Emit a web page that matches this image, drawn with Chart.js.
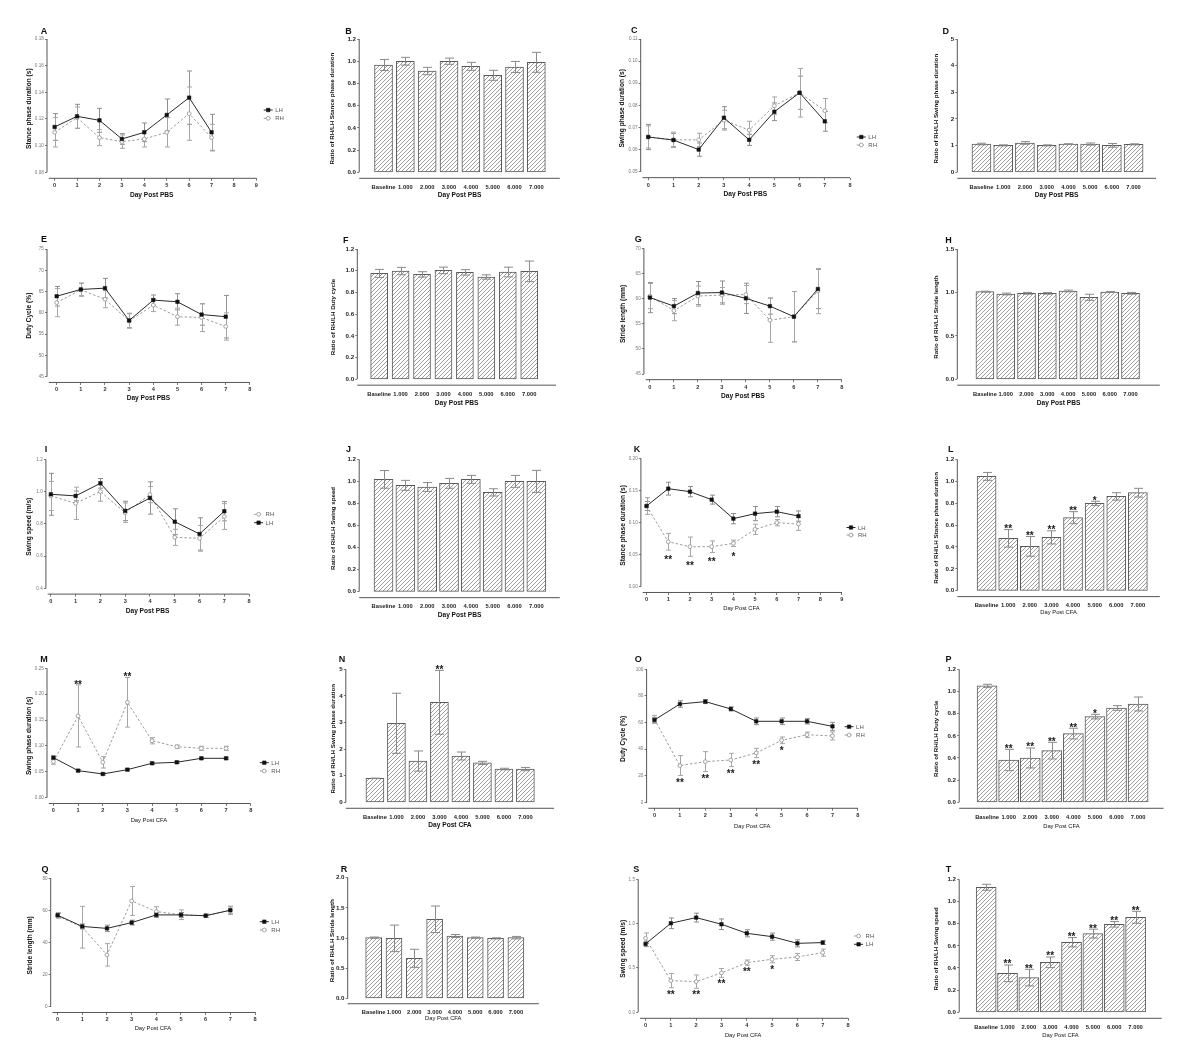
<!DOCTYPE html>
<html><head><meta charset="utf-8">
<script src="https://cdn.jsdelivr.net/npm/chart.js@4.4.1/dist/chart.umd.min.js"></script>
<style>
html,body{margin:0;padding:0;background:#fff;}
#fig{position:relative;width:1200px;height:1064px;overflow:hidden;background:#fff;}
.pc{position:absolute;}
.letter{position:absolute;font-family:'Liberation Sans',Arial,sans-serif;font-weight:bold;font-size:9px;color:#111;transform:translate(-50%,-50%);line-height:1;}
</style></head><body><div id="fig"></div>
<script>
// ---------- categories / ticks ----------
const days = [0,1,2,3,4,5,6,7];
const barCats = ['Baseline','1.000','2.000','3.000','4.000','5.000','6.000','7.000'];
const xTicks8 = [0,1,2,3,4,5,6,7,8];
const xTicks9 = [0,1,2,3,4,5,6,7,8,9];
const ratioTicks12 = [0,0.2,0.4,0.6,0.8,1.0,1.2];

// ---------- A: stance phase duration, PBS ----------
const A_yTicks = [0.08,0.10,0.12,0.14,0.16,0.18];
const A_LH = [0.114,0.122,0.119,0.105,0.110,0.123,0.136,0.110];
const A_LHerr = [0.010,0.009,0.009,0.004,0.007,0.012,0.020,0.0135];
const A_RH = [0.110,0.121,0.106,0.103,0.105,0.110,0.124,0.106];
const A_RHerr = [0.011,0.008,0.006,0.005,0.006,0.011,0.020,0.010];
// ---------- B ----------
const B_ratio = [0.966,1.000,0.912,1.000,0.954,0.873,0.948,0.990];
const B_err = [0.050,0.035,0.033,0.028,0.036,0.045,0.050,0.090];
// ---------- C: swing phase duration, PBS ----------
const C_yTicks = [0.05,0.06,0.07,0.08,0.09,0.10,0.11];
const C_LH = [0.0657,0.0643,0.0600,0.0744,0.0644,0.0771,0.0857,0.0728];
const C_LHerr = [0.0057,0.003,0.003,0.005,0.0025,0.004,0.0075,0.0045];
const C_RH = [0.0657,0.0644,0.0644,0.0733,0.0688,0.0798,0.0857,0.0776];
const C_RHerr = [0.005,0.0035,0.003,0.0045,0.004,0.004,0.011,0.0055];
// ---------- D ----------
const D_yTicks = [0,1,2,3,4,5];
const D_ratio = [1.06,1.01,1.10,1.01,1.06,1.06,1.01,1.05];
const D_err = [0.03,0.02,0.05,0.02,0.01,0.04,0.07,0.02];
// ---------- E: duty cycle, PBS ----------
const E_yTicks = [45,50,55,60,65,70,75];
const E_LH = [63.9,65.5,65.8,58.2,63.0,62.6,59.6,59.1];
const E_LHerr = [2.3,1.5,2.3,1.7,1.2,1.9,2.5,5.0];
const E_RH = [62.4,65.4,63.2,58.1,61.8,59.1,58.9,56.8];
const E_RHerr = [3.3,1.5,2.0,1.7,1.5,2.0,3.3,3.2];
// ---------- F ----------
const F_ratio = [0.975,0.997,0.966,1.003,0.985,0.942,0.988,0.994];
const F_err = [0.037,0.034,0.025,0.030,0.025,0.020,0.045,0.095];
// ---------- G: stride length, PBS ----------
const G_yTicks = [45,50,55,60,65,70];
const G_LH = [60.2,58.5,61.1,61.2,60.05,58.5,56.4,61.9];
const G_LHerr = [3.0,1.5,2.3,2.3,3.0,1.6,5.0,3.9];
const G_RH = [60.5,57.6,60.5,60.7,60.8,55.7,56.4,61.5];
const G_RHerr = [2.5,2.0,2.0,1.5,1.8,4.4,5.0,4.5];
// ---------- H ----------
const H_yTicks = [0,0.5,1.0,1.5];
const H_ratio = [1.009,0.982,0.990,0.990,1.017,0.944,1.005,0.990];
const H_err = [0.005,0.010,0.010,0.010,0.010,0.035,0.005,0.010];
// ---------- I: swing speed, PBS ----------
const I_yTicks = [0.4,0.6,0.8,1.0,1.2];
const I_LH = [0.983,0.973,1.051,0.880,0.960,0.813,0.737,0.878];
const I_LHerr = [0.13,0.03,0.03,0.06,0.10,0.08,0.10,0.06];
const I_RH = [0.973,0.927,1.000,0.869,0.981,0.716,0.710,0.845];
const I_RHerr = [0.09,0.10,0.06,0.06,0.05,0.05,0.08,0.08];
// ---------- J ----------
const J_ratio = [1.018,0.964,0.949,0.982,1.018,0.900,1.000,1.000];
const J_err = [0.080,0.045,0.040,0.045,0.036,0.033,0.054,0.100];
// ---------- K: stance phase duration, CFA ----------
const K_yTicks = [0.00,0.05,0.10,0.15,0.20];
const K_LH = [0.1257,0.1527,0.148,0.1356,0.106,0.1138,0.1169,0.110];
const K_LHerr = [0.007,0.010,0.008,0.007,0.008,0.011,0.008,0.008];
const K_RH = [0.1257,0.070,0.0623,0.0623,0.0675,0.0893,0.0997,0.0977];
const K_RHerr = [0.013,0.013,0.015,0.009,0.005,0.008,0.005,0.010];
const K_stars = ['','**','**','**','*','','',''];
// ---------- L ----------
const L_ratio = [1.044,0.478,0.405,0.487,0.667,0.797,0.861,0.895];
const L_err = [0.036,0.080,0.090,0.060,0.055,0.020,0.034,0.040];
const L_stars = ['','**','**','**','**','*','',''];
// ---------- M: swing phase duration, CFA ----------
const M_yTicks = [0.00,0.05,0.10,0.15,0.20,0.25];
const M_LH = [0.0774,0.0523,0.0458,0.0542,0.0665,0.0684,0.0761,0.0761];
const M_LHerr = [0.003,0.002,0.002,0.002,0.002,0.002,0.002,0.002];
const M_RH = [0.0697,0.158,0.0684,0.1843,0.110,0.0986,0.0954,0.0954];
const M_RHerr = [0.005,0.060,0.011,0.048,0.006,0.003,0.004,0.004];
const M_stars = ['','**','','**','','','',''];
// ---------- N ----------
const N_yTicks = [0,1,2,3,4,5];
const N_ratio = [0.90,2.97,1.55,3.76,1.74,1.48,1.25,1.25];
const N_err = [0.01,1.13,0.38,1.20,0.15,0.06,0.03,0.06];
const N_stars = ['','','','**','','','',''];
// ---------- O: duty cycle, CFA ----------
const O_yTicks = [0,20,40,60,80,100];
const O_LH = [61.9,73.9,75.7,70.2,60.9,60.9,60.9,57.1];
const O_LHerr = [2,2.5,1.5,1.5,2.5,2.5,2,3];
const O_RH = [62.4,27.6,30.6,31.8,37.1,46.6,50.8,49.9];
const O_RHerr = [3,7.5,7.5,5,3.5,2.5,2,3];
const O_stars = ['','**','**','**','**','*','',''];
// ---------- P ----------
const P_ratio = [1.050,0.382,0.400,0.466,0.620,0.773,0.851,0.887];
const P_err = [0.015,0.096,0.090,0.075,0.048,0.021,0.021,0.063];
const P_stars = ['','**','**','**','**','*','',''];
// ---------- Q: stride length, CFA ----------
const Q_yTicks = [0,20,40,60,80];
const Q_LH = [57.0,50.0,48.8,52.4,57.2,57.2,56.7,60.1];
const Q_LHerr = [1.5,1.5,2,1.5,1.5,1.5,1,2.5];
const Q_RH = [56.6,49.5,32.3,65.9,59.3,57.3,56.6,60.2];
const Q_RHerr = [1.5,13,7,9,3,3,1,2];
// ---------- R ----------
const R_yTicks = [0,0.5,1.0,1.5,2.0];
const R_ratio = [1.006,0.994,0.663,1.310,1.033,1.006,0.994,1.006];
const R_err = [0.010,0.220,0.150,0.220,0.025,0.010,0.010,0.020];
// ---------- S: swing speed, CFA ----------
const S_yTicks = [0,0.5,1.0,1.5];
const S_LH = [0.771,1.004,1.068,0.993,0.891,0.853,0.778,0.786];
const S_LHerr = [0.03,0.06,0.05,0.06,0.04,0.04,0.04,0.02];
const S_RH = [0.835,0.357,0.346,0.444,0.560,0.598,0.624,0.673];
const S_RHerr = [0.06,0.08,0.075,0.05,0.03,0.04,0.04,0.04];
const S_stars = ['','**','**','**','**','*','',''];
// ---------- T ----------
const T_ratio = [1.128,0.352,0.313,0.451,0.632,0.710,0.794,0.857];
const T_err = [0.027,0.075,0.075,0.048,0.042,0.040,0.025,0.054];
const T_stars = ['','**','**','**','**','**','**','**'];

// ---------- layout / style of each panel ----------
const FONT = "'Liberation Sans', Arial, sans-serif";
const panels = [
 {id:'A',kind:'line',L:47,T:39,H0:133.3,R:256.4,xmin:-0.34,xmax:9,xt:xTicks9,yt:A_yTicks,yDec:2,yTitle:'Stance phase duration (s)',xTitle:'Day Post PBS',xBold:true,yTitleX:28.7,xTitleY:195,lt:[43.9,31],LH:A_LH,LHe:A_LHerr,RH:A_RH,RHe:A_RHerr,leg:{x:263.7,rows:[['LH',110],['RH',118.3]]}},
 {id:'B',kind:'bar',L:359.2,T:39,H0:133.3,R:559.8,xmin:-0.54,xmax:7.5,yt:ratioTicks12,yDec:1,yTitle:'Ratio of RH/LH Stance phase duration',xTitle:'Day Post PBS',xBold:true,yTitleX:332.4,xTitleY:195,lt:[348.5,31],vals:B_ratio,errs:B_err,barW:18},
 {id:'C',kind:'line',L:640.7,T:39,H0:132.7,R:850,xmin:-0.3,xmax:8,xt:xTicks8,yt:C_yTicks,yDec:2,yTitle:'Swing phase duration (s)',xTitle:'Day Post PBS',xBold:true,yTitleX:621.7,xTitleY:194.5,lt:[634.3,30],LH:C_LH,LHe:C_LHerr,RH:C_RH,RHe:C_RHerr,leg:{x:856.8,rows:[['LH',137],['RH',145]]}},
 {id:'D',kind:'bar',L:957.3,T:39,H0:133.3,R:1156,xmin:-0.54,xmax:7.46,yt:D_yTicks,yDec:0,yTitle:'Ratio of RH/LH Swing phase duration',xTitle:'Day Post PBS',xBold:true,yTitleX:936.3,xTitleY:195,lt:[945.8,31],vals:D_ratio,errs:D_err,barW:19},

 {id:'E',kind:'line',L:47,T:249,H0:127.7,R:249.9,xmin:-0.4,xmax:8,xt:xTicks8,yt:E_yTicks,yDec:0,yTitle:'Duty Cycle (%)',xTitle:'Day Post PBS',xBold:true,yTitleX:28.7,xTitleY:398,lt:[43.9,239],LH:E_LH,LHe:E_LHerr,RH:E_RH,RHe:E_RHerr},
 {id:'F',kind:'bar',L:357.3,T:249,H0:130.3,R:556,xmin:-0.44,xmax:7.67,yt:ratioTicks12,yDec:1,yTitle:'Ratio of RH/LH Duty cycle',xTitle:'Day Post PBS',xBold:true,yTitleX:333.2,xTitleY:402.7,lt:[345.8,240],vals:F_ratio,errs:F_err,barW:17},
 {id:'G',kind:'line',L:643.9,T:248.3,H0:125.7,R:841.9,xmin:-0.25,xmax:8,xt:xTicks8,yt:G_yTicks,yDec:0,yTitle:'Stride length (mm)',xTitle:'Day Post PBS',xBold:true,yTitleX:622.9,xTitleY:396,lt:[638.2,239],LH:G_LH,LHe:G_LHerr,RH:G_RH,RHe:G_RHerr},
 {id:'H',kind:'bar',L:957.3,T:249,H0:130.3,R:1159.8,xmin:-0.72,xmax:7.8,yt:H_yTicks,yDec:1,yTitle:'Ratio of RH/LH Stride length',xTitle:'Day Post PBS',xBold:true,yTitleX:936.3,xTitleY:402.7,lt:[948.5,240],vals:H_ratio,errs:H_err,barW:18},

 {id:'I',kind:'line',L:45.9,T:459.3,H0:129,R:249.1,xmin:-0.2,xmax:8,xt:xTicks8,yt:I_yTicks,yDec:1,yTitle:'Swing speed (m/s)',xTitle:'Day Post PBS',xBold:true,yTitleX:28.7,xTitleY:611,lt:[45.9,449],LH:I_LH,LHe:I_LHerr,RH:I_RH,RHe:I_RHerr,leg:{x:254.1,rows:[['RH',514.3],['LH',522.7]]}},
 {id:'J',kind:'bar',L:359.2,T:459.3,H0:132.4,R:559.8,xmin:-0.54,xmax:7.5,yt:ratioTicks12,yDec:1,yTitle:'Ratio of RH/LH Swing speed',xTitle:'Day Post PBS',xBold:true,yTitleX:333.2,xTitleY:615,lt:[348.5,449],vals:J_ratio,errs:J_err,barW:19},
 {id:'K',kind:'line',L:640.9,T:458.3,H0:128.4,R:841.9,xmin:-0.26,xmax:9,xt:xTicks9,yt:K_yTicks,yDec:2,yTitle:'Stance phase duration (s)',xTitle:'Day Post CFA',xBold:false,yTitleX:622.9,xTitleY:608.3,lt:[637.1,449],LH:K_LH,LHe:K_LHerr,RH:K_RH,RHe:K_RHerr,stars:K_stars,starMode:'below',starGap:13,leg:{x:846.5,rows:[['LH',527.5],['RH',535]]}},
 {id:'L',kind:'bar',L:957.3,T:459.3,H0:131.4,R:1159.8,xmin:-0.77,xmax:7.43,yt:ratioTicks12,yDec:1,yTitle:'Ratio of RH/LH Stance phase duration',xTitle:'Day Post CFA',xBold:false,yTitleX:936.3,xTitleY:612.3,lt:[950.8,449],vals:L_ratio,errs:L_err,barW:19,stars:L_stars},

 {id:'M',kind:'line',L:47,T:668.3,H0:129.4,R:250.7,xmin:-0.26,xmax:8,xt:xTicks8,yt:M_yTicks,yDec:2,yTitle:'Swing phase duration (s)',xTitle:'Day Post CFA',xBold:false,yTitleX:28.7,xTitleY:820,lt:[43.9,659],LH:M_LH,LHe:M_LHerr,RH:M_RH,RHe:M_RHerr,stars:M_stars,starMode:'above',starGap:3,leg:{x:259.8,rows:[['LH',762.7],['RH',771]]}},
 {id:'N',kind:'bar',L:345.8,T:669.3,H0:133,R:554.1,xmin:-0.75,xmax:7.73,yt:N_yTicks,yDec:0,yTitle:'Ratio of RH/LH Swing phase duration',xTitle:'Day Post CFA',xBold:true,yTitleX:333.2,xTitleY:825,lt:[342,659],vals:N_ratio,errs:N_err,barW:18,stars:N_stars},
 {id:'O',kind:'line',L:646.6,T:669.3,H0:133,R:857.9,xmin:-0.31,xmax:8,xt:xTicks8,yt:O_yTicks,yDec:0,yTitle:'Duty Cycle (%)',xTitle:'Day Post CFA',xBold:false,yTitleX:622.9,xTitleY:826,lt:[638.2,659],LH:O_LH,LHe:O_LHerr,RH:O_RH,RHe:O_RHerr,stars:O_stars,starMode:'below',starGap:10,leg:{x:844.6,rows:[['LH',726.7],['RH',735]]}},
 {id:'P',kind:'bar',L:959.2,T:669.3,H0:133,R:1163.6,xmin:-0.7,xmax:7.59,yt:ratioTicks12,yDec:1,yTitle:'Ratio of RH/LH Duty cycle',xTitle:'Day Post CFA',xBold:false,yTitleX:936.3,xTitleY:826,lt:[948.5,659],vals:P_ratio,errs:P_err,barW:20,stars:P_stars},

 {id:'Q',kind:'line',L:50.7,T:878.3,H0:128.4,R:255,xmin:-0.28,xmax:8,xt:xTicks8,yt:Q_yTicks,yDec:0,yTitle:'Stride length (mm)',xTitle:'Day Post CFA',xBold:false,yTitleX:30,xTitleY:1028.3,lt:[45,869.3],LH:Q_LH,LHe:Q_LHerr,RH:Q_RH,RHe:Q_RHerr,leg:{x:259.8,rows:[['LH',921.7],['RH',930]]}},
 {id:'R',kind:'bar',L:347.7,T:877.7,H0:120.6,R:538.8,xmin:-0.69,xmax:7.54,yt:R_yTicks,yDec:1,yTitle:'Ratio of RH/LH Stride length',xTitle:'Day Post CFA',xBold:false,yTitleX:332.4,xTitleY:1018.3,lt:[343.9,869],vals:R_ratio,errs:R_err,barW:16},
 {id:'S',kind:'line',L:638.2,T:879.3,H0:133,R:848,xmin:-0.29,xmax:8,xt:xTicks8,yt:S_yTicks,yDec:1,yTitle:'Swing speed (m/s)',xTitle:'Day Post CFA',xBold:false,yTitleX:622.9,xTitleY:1035,lt:[636.3,869],LH:S_LH,LHe:S_LHerr,RH:S_RH,RHe:S_RHerr,stars:S_stars,starMode:'below',starGap:10,leg:{x:854.1,rows:[['RH',936],['LH',944.3]]}},
 {id:'T',kind:'bar',L:959.2,T:879.3,H0:133,R:1161.7,xmin:-0.67,xmax:7.63,yt:ratioTicks12,yDec:1,yTitle:'Ratio of RH/LH Swing speed',xTitle:'Day Post CFA',xBold:false,yTitleX:936.3,xTitleY:1035,lt:[948.5,869],vals:T_ratio,errs:T_err,barW:20,stars:T_stars}
];

// ---------- plugins ----------
const gpAxes = {
  id:'gpAxes',
  afterDraw(chart, args, o) {
    const {ctx, chartArea:a, scales:{x, y}} = chart;
    const yt = o.yt;
    ctx.save();
    ctx.strokeStyle = '#555'; ctx.lineWidth = 1;
    ctx.beginPath();
    ctx.moveTo(a.left, y.getPixelForValue(yt[yt.length-1]));
    ctx.lineTo(a.left, y.getPixelForValue(yt[0]));
    ctx.moveTo(a.left + o.xGap, a.bottom);
    ctx.lineTo(a.right, a.bottom);
    ctx.stroke();
    ctx.restore();
  }
};
const errBars = {
  id:'errBars',
  draw(chart, layer) {
    const {ctx, scales:{y}} = chart;
    chart.data.datasets.forEach((ds, di) => {
      if (!ds.errors || ds.errLayer !== layer) return;
      const meta = chart.getDatasetMeta(di);
      ctx.save();
      ctx.strokeStyle = ds.errColor; ctx.lineWidth = 1;
      meta.data.forEach((el, i) => {
        const e = ds.errors[i]; if (e == null) return;
        const v = ds.data[i].y;
        const x = Math.round(el.x) + 0.5;
        const y1 = y.getPixelForValue(v + e), y2 = y.getPixelForValue(v - e);
        const c = ds.capW / 2;
        ctx.beginPath();
        ctx.moveTo(x, y1); ctx.lineTo(x, y2);
        ctx.moveTo(x - c, y1); ctx.lineTo(x + c, y1);
        ctx.moveTo(x - c, y2); ctx.lineTo(x + c, y2);
        ctx.stroke();
      });
      ctx.restore();
    });
  },
  beforeDatasetsDraw(chart) { this.draw(chart, 'under'); },
  afterDatasetsDraw(chart) { this.draw(chart, 'over'); }
};
const stars = {
  id:'stars',
  afterDatasetsDraw(chart) {
    const {ctx, scales:{y}} = chart;
    chart.data.datasets.forEach((ds, di) => {
      if (!ds.stars) return;
      const meta = chart.getDatasetMeta(di);
      ctx.save();
      ctx.fillStyle = '#1a1a1a';
      ctx.font = 'bold 10px ' + FONT;
      ctx.textAlign = 'center'; ctx.textBaseline = 'alphabetic';
      meta.data.forEach((el, i) => {
        const s = ds.stars[i]; if (!s) return;
        const v = ds.data[i].y, e = ds.errors[i] || 0;
        let py;
        if (ds.starMode === 'below') py = y.getPixelForValue(v - e) + ds.starGap;
        else py = y.getPixelForValue(v + e) + ds.starGap;
        ctx.fillText(s, el.x, py);
      });
      ctx.restore();
    });
  }
};
const miniLegend = {
  id:'miniLegend',
  afterDraw(chart, args, o) {
    if (!o.rows) return;
    const ctx = chart.ctx;
    ctx.save();
    o.rows.forEach(r => {
      const ds = chart.data.datasets.find(d => d.label === r.label);
      const x = r.x, y = r.y;
      ctx.strokeStyle = ds.borderColor; ctx.lineWidth = 1;
      ctx.setLineDash(ds.borderDash || []);
      ctx.beginPath(); ctx.moveTo(x, y); ctx.lineTo(x + 9, y); ctx.stroke();
      ctx.setLineDash([]);
      const mx = x + 4.5;
      ctx.fillStyle = ds.pointBackgroundColor; ctx.strokeStyle = ds.pointBorderColor;
      ctx.lineWidth = ds.pointBorderWidth;
      ctx.beginPath();
      if (ds.pointStyle === 'rect') { const h = ds.pointRadius * Math.SQRT1_2; ctx.rect(mx - h, y - h, 2*h, 2*h); }
      else ctx.arc(mx, y, ds.pointRadius, 0, Math.PI*2);
      ctx.fill(); ctx.stroke();
      ctx.fillStyle = '#555'; ctx.font = '6px ' + FONT;
      ctx.textAlign = 'left'; ctx.textBaseline = 'middle';
      ctx.fillText(ds.label, x + 11.5, y + 0.5);
    });
    ctx.restore();
  }
};

function hatchPattern() {
  const c = document.createElement('canvas'); c.width = 4; c.height = 4;
  const g = c.getContext('2d');
  g.fillStyle = '#fff'; g.fillRect(0,0,4,4);
  g.strokeStyle = '#858585'; g.lineWidth = 0.8;
  g.beginPath();
  g.moveTo(0,4); g.lineTo(4,0);
  g.moveTo(-1,1); g.lineTo(1,-1);
  g.moveTo(3,5); g.lineTo(5,3);
  g.stroke();
  return g.createPattern(c, 'repeat');
}
const HATCH = hatchPattern();

// ---------- builder ----------
function build(p) {
  const fig = document.getElementById('fig');
  const yt = p.yt, y0 = yt[0], y1 = yt[yt.length-1], span = y1 - y0;
  const ymin = y0 - 0.045*span;
  const B = p.T + p.H0*1.045;
  const cl = Math.floor(p.yTitleX - 6);
  const ct = Math.floor(p.T - 8);
  const cb = Math.ceil(p.xTitleY + 6);
  const YW = p.L - cl;
  const XH = cb - B;
  let need = 8;
  if (p.leg) need = Math.max(need, p.leg.x + 26 - p.R);
  const W = Math.ceil(YW + (p.R - p.L) + need);
  const PR = W - YW - (p.R - p.L);
  const H = cb - ct;
  const isLine = p.kind === 'line';

  const ySize = isLine ? 6.6 : 6.2;
  const xSize = p.xBold ? 6.6 : 5.8;
  const yPadTop = (p.yTitleX - cl) - ySize*1.2/2;
  const xPadBot = (cb - p.xTitleY) - xSize*1.2/2;

  const wrap = document.createElement('div');
  wrap.className = 'pc';
  wrap.style.left = cl + 'px'; wrap.style.top = ct + 'px';
  wrap.style.width = W + 'px'; wrap.style.height = H + 'px';
  const cv = document.createElement('canvas');
  cv.width = W; cv.height = H;
  cv.style.width = W + 'px'; cv.style.height = H + 'px';
  wrap.appendChild(cv); fig.appendChild(wrap);

  const lt = document.createElement('div');
  lt.className = 'letter'; lt.textContent = p.id;
  lt.style.left = p.lt[0] + 'px'; lt.style.top = p.lt[1] + 'px';
  fig.appendChild(lt);

  let datasets;
  if (isLine) {
    datasets = [
      {label:'LH', data: days.map((d,i)=>({x:d, y:p.LH[i]})), errors:p.LHe, errColor:'#8e8e8e', errLayer:'under', capW:5,
       borderColor:'#2a2a2a', borderWidth:1, pointStyle:'rect', pointRadius:2.5, pointBackgroundColor:'#111', pointBorderColor:'#111', pointBorderWidth:0.5, tension:0, fill:false, clip:false},
      {label:'RH', data: days.map((d,i)=>({x:d, y:p.RH[i]})), errors:p.RHe, errColor:'#a6a6a6', errLayer:'under', capW:5,
       borderColor:'#9c9c9c', borderDash:[2.5,2], borderWidth:1, pointStyle:'circle', pointRadius:1.9, pointBackgroundColor:'#fff', pointBorderColor:'#9a9a9a', pointBorderWidth:0.9, tension:0, fill:false, clip:false,
       stars:p.stars, starMode:p.starMode, starGap:p.starGap}
    ];
  } else {
    datasets = [
      {label:'ratio', data: p.vals.map((v,i)=>({x:i, y:v})), errors:p.errs, errColor:'#8a8a8a', errLayer:'over', capW:9,
       backgroundColor:HATCH, borderColor:'#5a5a5a', borderWidth:1, borderSkipped:false, barThickness:p.barW,
       stars:p.stars, starMode:'above', starGap:2.5}
    ];
  }

  const legendRows = p.leg ? p.leg.rows.map(r => ({label:r[0], x:p.leg.x - cl, y:r[1] - ct})) : null;

  new Chart(cv, {
    type: isLine ? 'line' : 'bar',
    data: {datasets},
    options: {
      responsive:false, animation:false, events:[],
      layout:{padding:{left:0, top:p.T - ct, right:PR, bottom:0}},
      plugins:{legend:{display:false}, tooltip:{enabled:false},
               gpAxes:{yt:yt, xGap: isLine ? 1.8 : 0},
               miniLegend:{rows:legendRows}},
      scales:{
        x:{type:'linear', min:p.xmin, max:p.xmax,
           afterBuildTicks: s => { s.ticks = (isLine ? p.xt : days).map(v => ({value:v})); },
           afterFit: s => { s.height = XH; },
           border:{display:false},
           grid:{display:isLine, drawOnChartArea:false, drawTicks:true, tickLength:2.5, color:'#555', lineWidth:0.8},
           ticks:{autoSkip:false, maxRotation:0, minRotation:0, padding: isLine ? 1.5 : 3,
                  color: isLine ? '#333' : '#222',
                  font:{family:FONT, size: isLine ? 5.6 : 5.8, weight:'bold'},
                  callback: v => isLine ? String(v) : barCats[v]},
           title:{display:true, text:p.xTitle, color:'#111', font:{family:FONT, size:xSize, weight: p.xBold ? 'bold' : 'normal'}, padding:{top:0, bottom:xPadBot}}
        },
        y:{type:'linear', min:ymin, max:y1,
           afterBuildTicks: s => { s.ticks = yt.map(v => ({value:v})); },
           afterFit: s => { s.width = YW; },
           border:{display:false},
           grid:{display:true, drawOnChartArea:false, drawTicks:true, tickLength:2, color:'#555', lineWidth:0.8},
           ticks:{padding:1.2, color: isLine ? '#777' : '#222',
                  font:{family:FONT, size: isLine ? 4.6 : 6.2, weight: isLine ? 'normal' : 'bold'},
                  callback: v => v.toFixed(p.yDec)},
           title:{display:true, text:p.yTitle, color:'#111', font:{family:FONT, size:ySize, weight:'bold'}, padding:{top:yPadTop, bottom:0}}
        }
      }
    },
    plugins:[gpAxes, errBars, stars, miniLegend]
  });
}
panels.forEach(build);
</script></body></html>
